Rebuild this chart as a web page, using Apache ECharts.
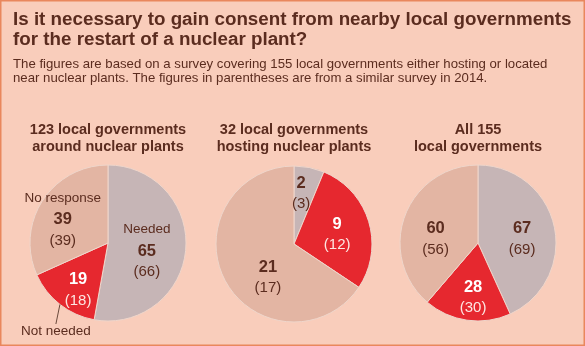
<!DOCTYPE html>
<html>
<head>
<meta charset="utf-8">
<script src="https://cdn.jsdelivr.net/npm/echarts@6/dist/echarts.min.js"></script>
<style>
  html, body { margin: 0; padding: 0; background: #F9CDBB; }
  #chart { width: 585px; height: 346px; }
</style>
</head>
<body>
<div id="chart"></div>
<script>
// Survey answers: consent from nearby local governments for a restart
const categories = ['Needed', 'Not needed', 'No response'];

const groupTitles = [
  '123 local governments\naround nuclear plants',
  '32 local governments\nhosting nuclear plants',
  'All 155\nlocal governments'
];

// Current survey counts, in the order of categories
const aroundCounts = [65, 19, 39];
const hostingCounts = [2, 9, 21];
const allCounts = [67, 28, 60];

// Counts from the 2014 survey (shown in parentheses)
const aroundPrev = [66, 18, 39];
const hostingPrev = [3, 12, 17];
const allPrev = [69, 30, 56];

const mainTitle = 'Is it necessary to gain consent from nearby local governments\nfor the restart of a nuclear plant?';
const subTitle = 'The figures are based on a survey covering 155 local governments either hosting or located\nnear nuclear plants. The figures in parentheses are from a similar survey in 2014.';

const FONT = '"Liberation Sans", Arial, Helvetica, sans-serif';
const TEXT = '#5B2C1F';
const sliceColors = ['#C6B5B6', '#E6282F', '#E3B5A3'];
const BG = '#F9CDBB';

const chart = echarts.init(document.getElementById('chart'));

function buildData(counts, prev) {
  return counts.map((v, i) => ({ value: v, name: categories[i], prev: prev[i] }));
}

// Label offsets (dx, dy) per slice, fine-tuning the default inside anchor
const labelShift = [
  [[-3, 4], [-4, 14], [-10, -1]],
  [[-1, -9], [3, 3], [11, 14]],
  [[3, 5], [1, 13], [-3, 11]]
];

function makeLabel(showNames) {
  return {
    show: true,
    position: 'inside',
    fontFamily: FONT,
    formatter: (p) => {
      const red = p.dataIndex === 1;
      const nm = showNames && !red ? '{n|' + p.name + '}\n' : '';
      const v = red ? 'vw' : 'v';
      const q = red ? 'pw' : 'p';
      return nm + '{' + v + '|' + p.value + '}\n{' + q + '|(' + p.data.prev + ')}';
    },
    rich: {
      n: { fontFamily: FONT, fontSize: 13.5, color: TEXT, lineHeight: 22 },
      v: { fontFamily: FONT, fontSize: 16.5, fontWeight: 'bold', color: TEXT, lineHeight: 21 },
      p: { fontFamily: FONT, fontSize: 15, color: TEXT, lineHeight: 21 },
      vw: { fontFamily: FONT, fontSize: 16.5, fontWeight: 'bold', color: '#FFFFFF', lineHeight: 21 },
      pw: { fontFamily: FONT, fontSize: 15, color: '#FDE6E2', lineHeight: 21 }
    }
  };
}

const centers = [[108, 243], [294, 244], [478, 243]];
const datasets = [
  buildData(aroundCounts, aroundPrev),
  buildData(hostingCounts, hostingPrev),
  buildData(allCounts, allPrev)
];

const series = datasets.map((data, k) => ({
  type: 'pie',
  center: centers[k],
  radius: [0, 78],
  startAngle: 90,
  clockwise: true,
  silent: true,
  animation: false,
  color: sliceColors,
  itemStyle: { borderColor: '#EFD6CB', borderWidth: 1 },
  label: makeLabel(k === 0),
  labelLine: { show: false },
  labelLayout: (params) => {
    const s = labelShift[k][params.dataIndex];
    return { dx: s[0], dy: s[1] };
  },
  data: data
}));

// Outside caption with leader line for the "Not needed" slice of the first pie
series.push({
  type: 'pie',
  center: centers[0],
  radius: [0, 78],
  startAngle: 90,
  clockwise: true,
  silent: true,
  animation: false,
  z: 3,
  itemStyle: { color: 'rgba(0,0,0,0)' },
  label: {
    show: true,
    position: 'outside',
    overflow: 'none',
    fontFamily: FONT,
    fontSize: 13.5,
    color: TEXT,
    formatter: (p) => (p.dataIndex === 1 ? p.name : '')
  },
  labelLine: { show: true, length: 14, length2: 0, lineStyle: { color: '#6B4A3C', width: 1 } },
  labelLayout: (params) => {
    if (params.dataIndex === 1) {
      return { x: 21, y: 331, align: 'left', verticalAlign: 'middle' };
    }
    return {};
  },
  data: datasets[0].map((d, i) => ({
    value: d.value,
    name: d.name,
    labelLine: { show: i === 1 }
  }))
});

const graphics = [
  {
    type: 'rect', shape: { x: 0, y: 0, width: 585, height: 346 },
    style: { fill: 'none', stroke: '#E9875D', lineWidth: 3 }, z: 100, silent: true
  },
  {
    type: 'text', x: 13, y: 10,
    style: { text: mainTitle, font: 'bold 18.8px ' + FONT, fill: TEXT, lineHeight: 20, textVerticalAlign: 'top' }
  },
  {
    type: 'text', x: 13, y: 57,
    style: { text: subTitle, font: '13.2px ' + FONT, fill: TEXT, lineHeight: 14.5, textVerticalAlign: 'top' }
  }
];
groupTitles.forEach((t, k) => {
  graphics.push({
    type: 'text', x: centers[k][0], y: 121.5,
    style: { text: t, font: 'bold 14.5px ' + FONT, fill: TEXT, lineHeight: 17, textAlign: 'center', textVerticalAlign: 'top' }
  });
});

chart.setOption({
  backgroundColor: BG,
  animation: false,
  graphic: graphics,
  series: series
});
</script>
</body>
</html>
